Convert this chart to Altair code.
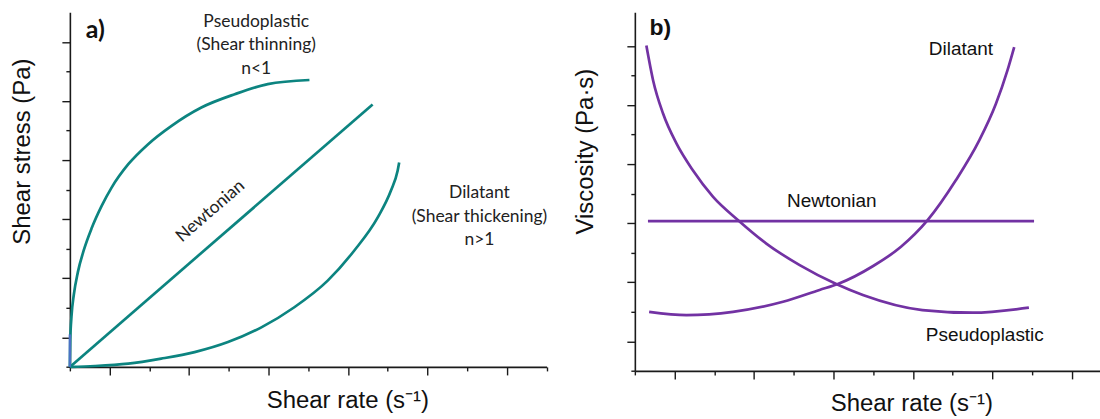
import altair as alt
import pandas as pd

# ---------------- data (axis units: one tick interval = 1) ----------------
pseudo_a_x = [0, 0.01, 0.04, 0.10, 0.20, 0.35, 0.55, 0.80, 1.05, 1.47, 1.97, 2.56, 3.31, 4.15, 4.98, 6.03]
pseudo_a_y = [0, 0.90, 1.70, 2.45, 3.20, 3.95, 4.70, 5.45, 6.07, 6.86, 7.54, 8.16, 8.78, 9.23, 9.57, 9.71]
newt_a_x = [0, 7.62]
newt_a_y = [0, 8.88]
dil_a_x = [0, 0.63, 1.47, 2.30, 3.14, 3.98, 4.82, 5.65, 6.49, 7.16, 7.75, 8.08, 8.25, 8.29]
dil_a_y = [0, 0.03, 0.11, 0.28, 0.50, 0.84, 1.34, 2.02, 2.92, 3.94, 5.06, 5.96, 6.64, 6.92]
blue_a_x = [0, 0]
blue_a_y = [0, 1.1]

pseudo_b_x = [0.29, 0.46, 0.71, 1.05, 1.46, 1.97, 2.60, 3.31, 4.15, 5.07, 5.74, 7.24, 8.50, 9.92]
pseudo_b_y = [11.01, 9.83, 8.71, 7.69, 6.79, 5.89, 5.10, 4.31, 3.58, 2.94, 2.57, 2.06, 1.97, 2.14]
newt_b_x = [0.33, 10.05]
newt_b_y = [5.07, 5.07]
dil_b_x = [0.36, 1.30, 2.47, 3.73, 4.65, 5.11, 6.00, 6.70, 7.37, 8.08, 8.67, 9.09, 9.38, 9.55]
dil_b_y = [2.00, 1.89, 2.00, 2.34, 2.74, 2.94, 3.55, 4.20, 5.10, 6.45, 7.80, 9.04, 10.17, 10.96]

labels_a = ["Pseudoplastic", "(Shear thinning)", "n<1", "Dilatant", "(Shear thickening)", "n>1"]
labels_a_x = [4.69, 4.69, 4.69, 10.31, 10.31, 10.31]
labels_a_y = [11.66, 10.88, 10.07, 5.88, 5.09, 4.29]
newt_label_a = ["Newtonian"]
newt_label_a_x = [3.54]
newt_label_a_y = [5.27]
panel_a_tag = ["a)"]
panel_a_tag_x = [0.64]
panel_a_tag_y = [11.39]

labels_b = ["Dilatant", "Newtonian", "Pseudoplastic"]
labels_b_x = [8.21, 4.96, 8.81]
labels_b_y = [10.90, 5.75, 1.20]
panel_b_tag = ["b)"]
panel_b_tag_x = [0.64]
panel_b_tag_y = [11.62]

ticks_a_x = list(range(0, 13))
ticks_a_y = list(range(0, 12))
ticks_b_x = list(range(0, 12))
ticks_b_y = list(range(0, 12))

TEAL = "#0c8480"
PURPLE = "#7232a3"
AXIS = "#1a1a1a"


def series_df(pairs):
    rows = []
    for name, xs, ys in pairs:
        for i, (x, y) in enumerate(zip(xs, ys)):
            rows.append({"series": name, "i": i, "x": x, "y": y})
    return pd.DataFrame(rows)


def text_df(labels, xs, ys):
    return pd.DataFrame({"label": labels, "x": xs, "y": ys})


TICK_SIZE = {"condition": {"test": "datum.value % 2 === 1", "value": 8}, "value": 4}


def x_enc(domain, values, tx, ty):
    return alt.X(
        "x:Q",
        scale=alt.Scale(domain=domain, nice=False, zero=False),
        axis=alt.Axis(
            values=values, labels=False, grid=False,
            domainColor=AXIS, domainWidth=1.6, tickColor=AXIS, tickWidth=1.4,
            tickSize=TICK_SIZE,
            title="Shear rate (s⁻¹)", titleFont="Liberation Sans", titleFontSize=24,
            titleFontWeight="normal", titleColor="#111",
            titleX=tx, titleY=ty, titleBaseline="middle", titleAlign="center",
        ),
    )


def y_enc(domain, values, title, tx, ty):
    return alt.Y(
        "y:Q",
        scale=alt.Scale(domain=domain, nice=False, zero=False),
        axis=alt.Axis(
            values=values, labels=False, grid=False,
            domainColor=AXIS, domainWidth=1.6, tickColor=AXIS, tickWidth=1.4,
            tickSize=TICK_SIZE,
            title=title, titleFont="Liberation Sans", titleFontSize=24,
            titleFontWeight="normal", titleColor="#111", titleAngle=270,
            titleX=tx, titleY=ty, titleBaseline="middle", titleAlign="center",
        ),
    )


# ---------------- panel a ----------------
xa = x_enc([0, 12], ticks_a_x, 278, 34)
ya = y_enc([0, 12], ticks_a_y, "Shear stress (Pa)", -47, 139)

lines_a = alt.Chart(series_df([
    ("Pseudoplastic", pseudo_a_x, pseudo_a_y),
    ("Newtonian", newt_a_x, newt_a_y),
    ("Dilatant", dil_a_x, dil_a_y),
])).mark_line(color=TEAL, strokeWidth=2.7, interpolate="monotone").encode(
    x=xa, y=ya, detail="series:N", order="i:Q")

blue_a = alt.Chart(series_df([("start", blue_a_x, blue_a_y)])).mark_line(
    color="#4a72c4", strokeWidth=2.4).encode(x=xa, y=ya, order="i:Q")

txt_a = alt.Chart(text_df(labels_a, labels_a_x, labels_a_y)).mark_text(
    font="Lato", fontSize=17.5, color="#222", align="center", baseline="middle").encode(
    x=xa, y=ya, text="label:N")

newt_txt_a = alt.Chart(text_df(newt_label_a, newt_label_a_x, newt_label_a_y)).mark_text(
    font="Lato", fontSize=17.5, color="#222", align="center", baseline="middle", angle=319).encode(
    x=xa, y=ya, text="label:N")

tag_a = alt.Chart(text_df(panel_a_tag, panel_a_tag_x, panel_a_tag_y)).mark_text(
    font="Lato", fontSize=25, fontWeight="bold", color="#111", align="center", baseline="middle").encode(
    x=xa, y=ya, text="label:N")

panel_a = alt.layer(lines_a, blue_a, txt_a, newt_txt_a, tag_a).properties(width=477.6, height=355.2)

# ---------------- panel b ----------------
xb = x_enc([0, 11.71], ticks_b_x, 277, 33)
yb = y_enc([0, 12.135], ticks_b_y, "Viscosity (Pa·s)", -49, 139)

lines_b = alt.Chart(series_df([
    ("Pseudoplastic", pseudo_b_x, pseudo_b_y),
    ("Newtonian", newt_b_x, newt_b_y),
    ("Dilatant", dil_b_x, dil_b_y),
])).mark_line(color=PURPLE, strokeWidth=2.7, interpolate="monotone").encode(
    x=xb, y=yb, detail="series:N", order="i:Q")

txt_b = alt.Chart(text_df(labels_b, labels_b_x, labels_b_y)).mark_text(
    font="Liberation Sans", fontSize=19, color="#111", align="center", baseline="middle").encode(
    x=xb, y=yb, text="label:N")

tag_b = alt.Chart(text_df(panel_b_tag, panel_b_tag_x, panel_b_tag_y)).mark_text(
    font="Liberation Sans", fontSize=23, fontWeight="bold", color="#111", align="center", baseline="middle").encode(
    x=xb, y=yb, text="label:N")

panel_b = alt.layer(lines_b, txt_b, tag_b).properties(width=466, height=359.2)

chart = alt.hconcat(panel_a, panel_b, spacing=26).properties(
    padding={"left": 10, "top": 12, "right": 0, "bottom": 0},
    background="white",
).configure_view(stroke=None)

chart.save("out.html", embed_options={"renderer": "svg", "actions": False})
